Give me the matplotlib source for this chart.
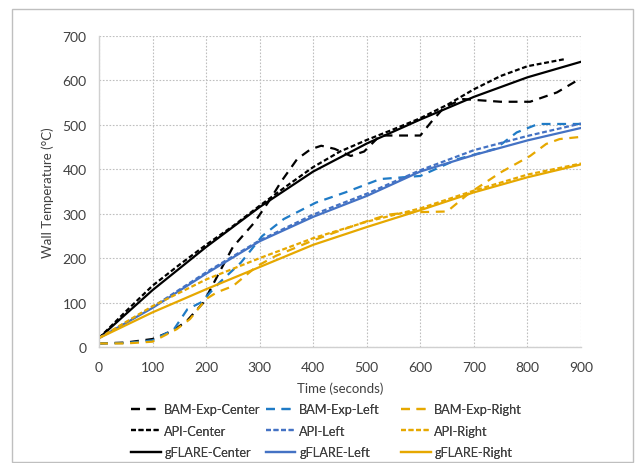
import matplotlib
matplotlib.use("Agg")
import matplotlib.pyplot as plt
from matplotlib.patches import Rectangle

plt.rcParams['font.family'] = ['Lato', 'DejaVu Sans']

# Experimental (BAM) measurements
bam_center_t = [0, 50, 100, 140, 165, 195, 230, 250, 290, 320, 340, 370, 395, 415, 440, 470,
                495, 525, 560, 600, 620, 645, 680, 750, 805, 855, 900]
bam_center_T = [8, 10, 18, 38, 60, 100, 180, 225, 280, 333, 372, 423, 445, 453, 446, 430,
                440, 476, 476, 476, 506, 540, 558, 552, 552, 573, 605]

bam_left_t = [0, 50, 100, 140, 165, 190, 225, 265, 305, 345, 405, 460, 525, 600, 670, 740,
              780, 820, 900]
bam_left_T = [8, 9, 15, 40, 85, 100, 145, 190, 250, 288, 325, 348, 378, 385, 423, 446,
              483, 502, 502]

bam_right_t = [0, 50, 100, 145, 170, 200, 220, 250, 295, 330, 400, 450, 500, 540, 580, 650,
               690, 750, 805, 835, 860, 900]
bam_right_T = [8, 8, 12, 40, 63, 108, 123, 137, 182, 205, 240, 262, 283, 298, 303, 305,
               345, 393, 430, 457, 468, 473]

# API model predictions
api_center_t = [0, 50, 100, 150, 200, 250, 300, 350, 400, 450, 500, 550, 600, 650, 700, 750, 800, 870]
api_center_T = [20, 80, 138, 185, 230, 272, 318, 362, 405, 440, 466, 490, 515, 545, 580, 610, 632, 648]

api_left_t = [0, 100, 200, 300, 400, 500, 600, 700, 800, 900]
api_left_T = [20, 90, 168, 240, 298, 345, 398, 443, 475, 503]

api_right_t = [0, 100, 200, 300, 400, 500, 600, 700, 800, 900]
api_right_T = [20, 92, 152, 200, 245, 282, 312, 352, 388, 413]

# gFLARE model predictions
gf_t = [0, 100, 200, 300, 400, 500, 600, 700, 800, 900]
gf_center_T = [20, 128, 225, 315, 395, 458, 512, 563, 607, 642]
gf_left_T = [20, 88, 165, 238, 293, 340, 395, 432, 465, 493]
gf_right_T = [20, 78, 130, 180, 230, 270, 308, 348, 382, 411]

x_ticks = [0, 100, 200, 300, 400, 500, 600, 700, 800, 900]
y_ticks = [0, 100, 200, 300, 400, 500, 600, 700]

BLACK = "#000000"
BLUE_EXP = "#1F7BC6"
BLUE = "#4472C4"
GOLD = "#E6A800"
TEXT = "#404040"

fig = plt.figure(figsize=(6.35, 4.64), dpi=100)
ax = fig.add_axes([99 / 635, 1 - 348 / 464, 482 / 635, 311 / 464])

bam_dash = (0, (4, 3))
api_dash = (0, (2.2, 1.2))
lw = 1.6

# one group per wall position: experiment, API, gFLARE
groups = [
    [(bam_center_t, bam_center_T, BLACK, bam_dash, "BAM-Exp-Center"),
     (api_center_t, api_center_T, BLACK, api_dash, "API-Center"),
     (gf_t, gf_center_T, BLACK, "-", "gFLARE-Center")],
    [(bam_left_t, bam_left_T, BLUE_EXP, bam_dash, "BAM-Exp-Left"),
     (api_left_t, api_left_T, BLUE, api_dash, "API-Left"),
     (gf_t, gf_left_T, BLUE, "-", "gFLARE-Left")],
    [(bam_right_t, bam_right_T, GOLD, bam_dash, "BAM-Exp-Right"),
     (api_right_t, api_right_T, GOLD, api_dash, "API-Right"),
     (gf_t, gf_right_T, GOLD, "-", "gFLARE-Right")],
]

group_handles = []
for group in groups:
    hs = []
    for t, T, c, ls, name in group:
        (h,) = ax.plot(t, T, color=c, linestyle=ls, linewidth=lw, label=name)
        hs.append(h)
    group_handles.append(hs)

ax.set_xlim(0, 900)
ax.set_ylim(0, 700)
ax.set_xticks(x_ticks)
ax.set_yticks(y_ticks)
ax.tick_params(axis="x", length=0, labelsize=10, colors=TEXT, pad=10)
ax.tick_params(axis="y", length=0, labelsize=10, colors=TEXT, pad=9)
ax.grid(True, color="#BFBFBF", linestyle=(0, (1.5, 1.5)), linewidth=0.8)
ax.set_axisbelow(True)
for side in ["top", "right"]:
    ax.spines[side].set_visible(False)
for side in ["left", "bottom"]:
    ax.spines[side].set_color("#D0D0D0")
    ax.spines[side].set_linewidth(1.0)

ax.set_xlabel("Time (seconds)", fontsize=9.5, color=TEXT, labelpad=6)
ax.set_ylabel("Wall Temperature (°C)", fontsize=9.5, color=TEXT, labelpad=6)

# three legend columns at evenly spaced positions
for i, hs in enumerate(group_handles):
    leg = fig.legend(handles=hs, loc="upper left",
                     bbox_to_anchor=((126 + 135 * i) / 635, 1 - 399 / 464),
                     frameon=False, fontsize=9.2, handlelength=2.3, handletextpad=0.3,
                     labelspacing=0.75, labelcolor=TEXT, borderaxespad=0)
    fig.add_artist(leg)

fig.patches.append(Rectangle((12 / 635, 1 / 464), 621 / 635, 453 / 464, transform=fig.transFigure,
                             fill=False, edgecolor="#BFBFBF", linewidth=1.0))

fig.savefig("out.png", dpi=100)
